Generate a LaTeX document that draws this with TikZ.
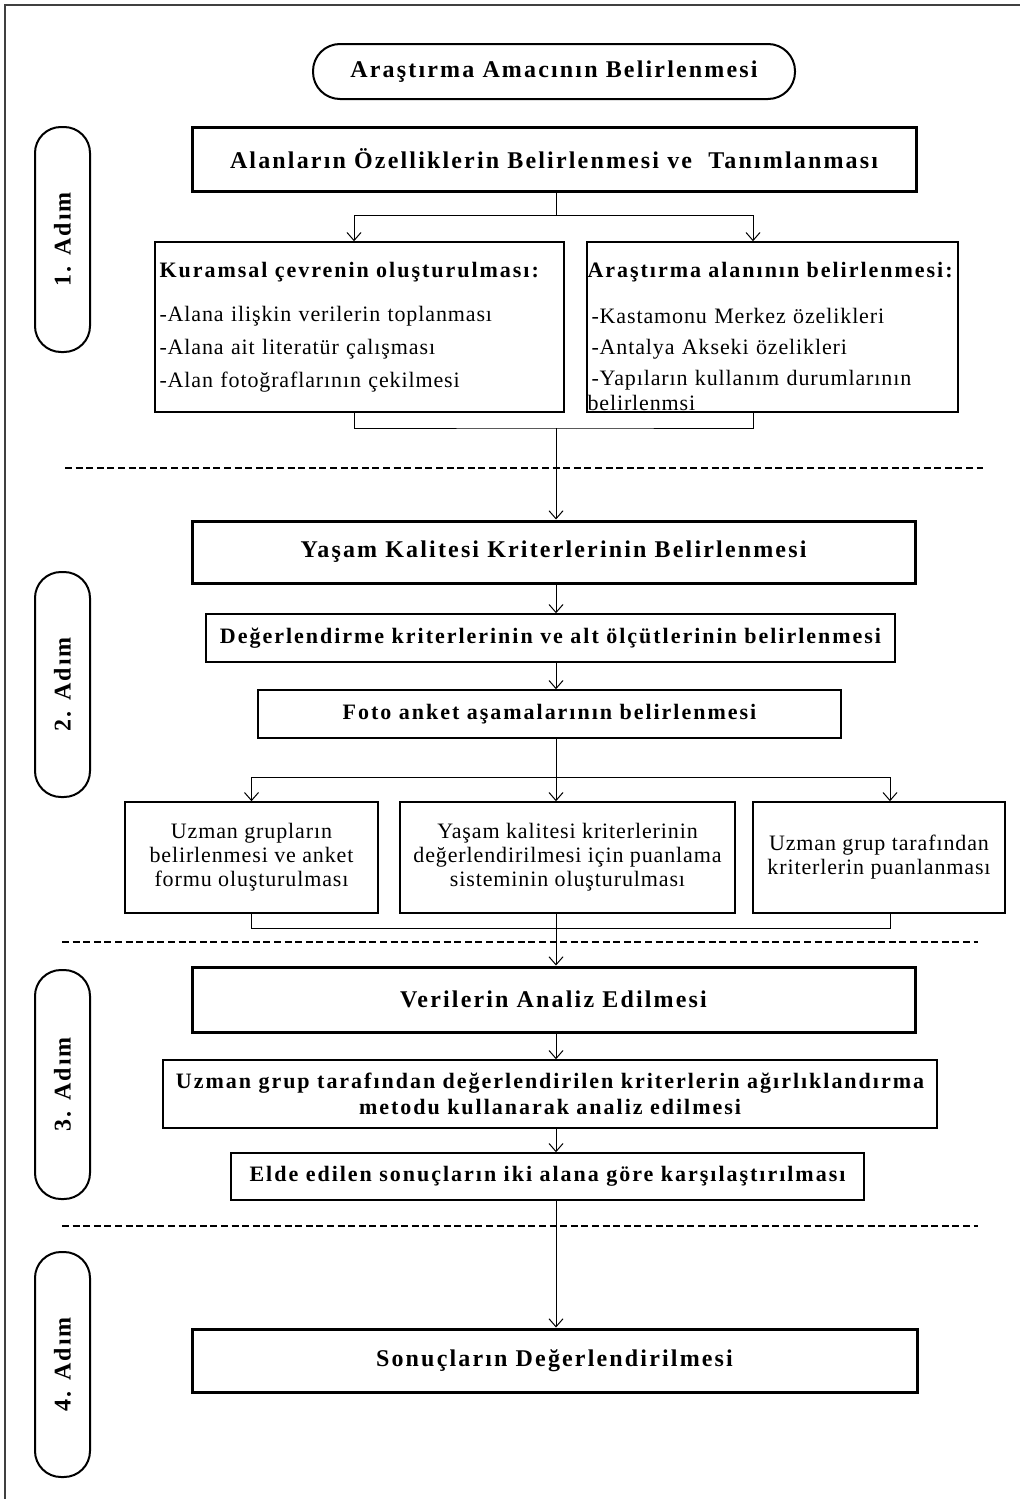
\documentclass[tikz,border=0pt]{standalone}
\usepackage{fontspec}
\setmainfont{Liberation Serif}[LetterSpace=4]
\newfontfamily\headfont{Liberation Serif}[LetterSpace=9]
\usetikzlibrary{positioning,arrows.meta}

\begin{document}
\begin{tikzpicture}[x=0.5pt, y=-0.5pt, >={Straight Barb[length=4pt,width=7pt]},
    every node/.style={font=\fontsize{11}{13}\selectfont, inner sep=2pt},
    kutu/.style={draw, line width=0.75pt},
    baslik/.style={font=\fontsize{11}{13}\selectfont\headfont\bfseries},
    buyuk/.style={font=\fontsize{12}{14}\selectfont\headfont\bfseries},
    anakutu/.style={draw, line width=1.5pt, buyuk},
    adim/.style={draw, line width=1pt, rounded corners=13pt, rotate=90, minimum height=27.5pt, buyuk},
    ayrac/.style={dash pattern=on 3.5pt off 1.8pt, line width=1pt},
    ok/.style={->, line width=0.5pt}]
    \useasboundingbox (0,0) rectangle (1020,1499);
    \draw[line width=1pt, black!75] (5,1499) -- (5,5) -- (1020,5);
    \coordinate (omurga) at (556,0);

    % 1. adim
    \node[adim, minimum width=112.5pt] (adim1) at (62.5,239.5) {1. Adım};
    \node[draw, line width=1pt, rounded corners=13.5pt, minimum width=241pt, minimum height=27.5pt, buyuk] (amac) at (554,71.5) {Araştırma Amacının Belirlenmesi};
    \node[anakutu, minimum width=362pt, minimum height=32pt] (alan) at (554,159) {Alanların Özelliklerin Belirlenmesi ve~ Tanımlanması};
    \node[kutu, minimum width=204.5pt, minimum height=85pt, text width=200pt, align=left] (kuram) at (359.5,327)
        {{\headfont\bfseries Kuramsal çevrenin oluşturulması:}\\[9pt]
         -Alana ilişkin verilerin toplanması\\[3.5pt]
         -Alana ait literatür çalışması\\[3.5pt]
         -Alan fotoğraflarının çekilmesi\\[3pt]};
    \node[kutu, minimum width=185.5pt, minimum height=85pt, text width=185pt, inner xsep=0.25pt, inner ysep=0.5pt, align=left] (arast) at (772.5,327)
        {\mbox{}\\[4pt]
         \mbox{\headfont\bfseries Araştırma alanının belirlenmesi:}\\[10pt]
         \hspace*{2pt}-Kastamonu Merkez özelikleri\\[2.5pt]
         \hspace*{2pt}-Antalya Akseki özelikleri\\[2.5pt]
         \hspace*{2pt}-Yapıların kullanım durumlarının\\[-0.5pt]
         belirlenmsi};
    \coordinate (c1) at (556,215);
    \coordinate (c2) at (556,428);
    \draw[ok] (alan.south -| omurga) -- (c1) -| ([xshift=-2.75pt]kuram.north);
    \draw[ok] (c1) -| ([xshift=-9.75pt]arast.north);
    \draw ([xshift=-2.75pt]kuram.south) |- (c2) -| ([xshift=-9.75pt]arast.south);
    \draw[ayrac] (65,468) -- (983,468);

    % 2. adim
    \node[adim, minimum width=112.5pt] (adim2) at (62.5,684.5) {2. Adım};
    \node[anakutu, minimum width=361.5pt, minimum height=31pt] (yasam) at (553.5,552) {Yaşam Kalitesi Kriterlerinin Belirlenmesi};
    \node[kutu, baslik, minimum width=344.5pt, minimum height=24pt] (degr) at (550.5,638) {Değerlendirme kriterlerinin ve alt ölçütlerinin belirlenmesi};
    \node[kutu, baslik, minimum width=291.5pt, minimum height=24pt] (foto) at (549.5,714) {Foto anket aşamalarının belirlenmesi};
    \node[kutu, minimum width=126.5pt, minimum height=55.5pt, align=center, font=\fontsize{11}{12}\selectfont] (uzm1) at (251.5,857.5)
        {Uzman grupların\\belirlenmesi ve anket\\formu oluşturulması};
    \node[kutu, minimum width=167.5pt, minimum height=55.5pt, align=center, font=\fontsize{11}{12}\selectfont] (uzm2) at (567.5,857.5)
        {Yaşam kalitesi kriterlerinin\\değerlendirilmesi için puanlama\\sisteminin oluşturulması};
    \node[kutu, minimum width=126pt, minimum height=55.5pt, align=center, font=\fontsize{11}{12}\selectfont] (uzm3) at (879,857.5)
        {Uzman grup tarafından\\kriterlerin puanlanması};
    \draw[ok] (c2) -- (c2 |- yasam.north);
    \draw[ok] (yasam.south -| omurga) -- (degr.north -| omurga);
    \draw[ok] (degr.south -| omurga) -- (foto.north -| omurga);
    \coordinate (c3) at (556,777);
    \coordinate (c4) at (556,928);
    \draw (foto.south -| omurga) -- (c3);
    \draw[ok] (c3) -| (uzm1.north);
    \draw[ok] (c3) -- (c3 |- uzm2.north);
    \draw[ok] (c3) -| ([xshift=5.5pt]uzm3.north);
    \draw (uzm1.south) |- (c4) -| ([xshift=5.5pt]uzm3.south);
    \draw[ayrac] (62,942) -- (978,942);

    % 3. adim
    \node[adim, minimum width=114.5pt] (adim3) at (62.5,1084.5) {3. Adım};
    \node[anakutu, minimum width=361.5pt, minimum height=32.5pt] (veri) at (553.5,999.5) {Verilerin Analiz Edilmesi};
    \node[kutu, baslik, minimum width=387pt, minimum height=34pt, align=center, inner sep=1pt] (agir) at (550,1094)
        {Uzman grup tarafından değerlendirilen kriterlerin ağırlıklandırma\\metodu kullanarak analiz edilmesi};
    \node[kutu, baslik, minimum width=316.5pt, minimum height=23.5pt] (elde) at (547.5,1176.5) {Elde edilen sonuçların iki alana göre karşılaştırılması};
    \draw[ok] (uzm2.south -| omurga) -- (veri.north -| omurga);
    \draw[ok] (veri.south -| omurga) -- (agir.north -| omurga);
    \draw[ok] (agir.south -| omurga) -- (elde.north -| omurga);
    \draw[ayrac] (62,1226) -- (978,1226);

    % 4. adim
    \node[adim, minimum width=112.5pt] (adim4) at (62.5,1364.5) {4. Adım};
    \node[anakutu, minimum width=362.5pt, minimum height=31.5pt] (sonuc) at (554.5,1360.5) {Sonuçların Değerlendirilmesi};
    \draw[ok] (elde.south -| omurga) -- (sonuc.north -| omurga);
\end{tikzpicture}
\end{document}
